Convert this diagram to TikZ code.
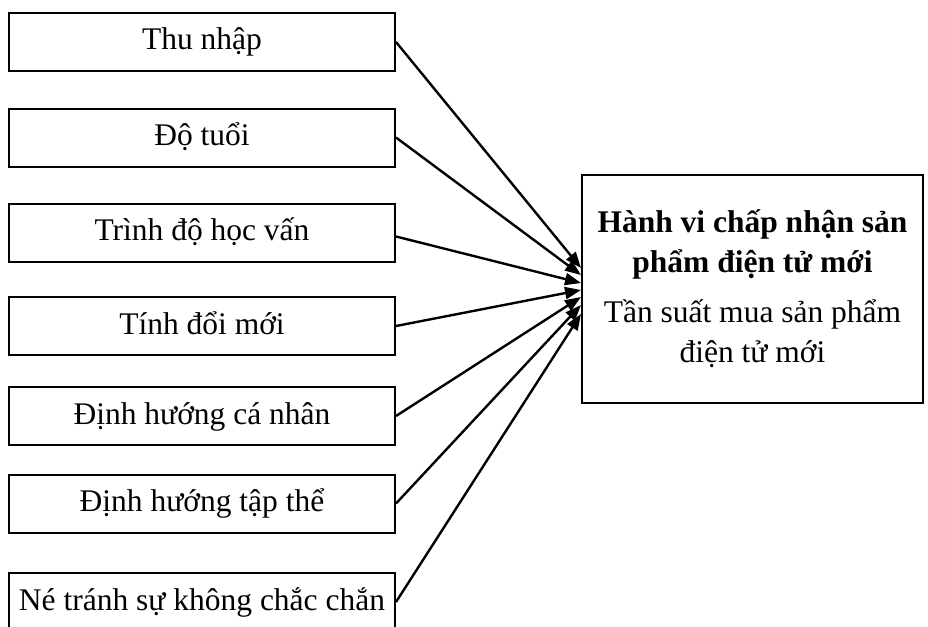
\documentclass[tikz,border=0pt]{standalone}
\usepackage{fontspec}
\setmainfont{Liberation Serif}
\usetikzlibrary{arrows.meta,calc}
\begin{document}
\begin{tikzpicture}[x=1pt,y=-1pt,
  cause/.style={draw, line width=2pt, minimum width=386pt, minimum height=58pt,
    inner sep=0pt, text height=24pt, text depth=8pt, font=\fontsize{31.5}{40}\selectfont},
  effect/.style={draw, line width=2pt, minimum width=341pt, minimum height=228pt,
    inner sep=0pt, align=center, font=\fontsize{31.5}{40}\selectfont},
  conn/.style={line width=2.4pt, -{Triangle[length=16pt,width=12pt]}}]
\useasboundingbox (0,0) rectangle (928,626);
\clip (0,0) rectangle (928,626);
\node[cause] (b1) at (202,42) {Thu nhập};
\node[cause] (b2) at (202,137.5) {Độ tuổi};
\node[cause] (b3) at (202,232.5) {Trình độ học vấn};
\node[cause] (b4) at (202,326) {Tính đổi mới};
\node[cause] (b5) at (202,416) {Định hướng cá nhân};
\node[cause] (b6) at (202,503.5) {Định hướng tập thể};
\node[cause] (b7) at (202,602) {Né tránh sự không chắc chắn};
\node[effect] (out) at (752.5,289) {{\bfseries Hành vi chấp nhận sản}\\{\bfseries phẩm điện tử mới}\\[10pt]Tần suất mua sản phẩm\\điện tử mới};
\coordinate (t1) at ($(out.west)+(0,-21)$);
\coordinate (t2) at ($(out.west)+(0,-14)$);
\coordinate (t3) at ($(out.west)+(0,-6)$);
\coordinate (t4) at ($(out.west)+(0,1)$);
\coordinate (t5) at ($(out.west)+(0,8)$);
\coordinate (t6) at ($(out.west)+(0,16)$);
\coordinate (t7) at ($(out.west)+(0,25)$);
\draw[conn] (b1.east) -- (t1);
\draw[conn] (b2.east) -- (t2);
\draw[conn] ($(b3.east)+(0,4)$) -- (t3);
\draw[conn] (b4.east) -- (t4);
\draw[conn] (b5.east) -- (t5);
\draw[conn] (b6.east) -- (t6);
\draw[conn] (b7.east) -- (t7);
\end{tikzpicture}
\end{document}
